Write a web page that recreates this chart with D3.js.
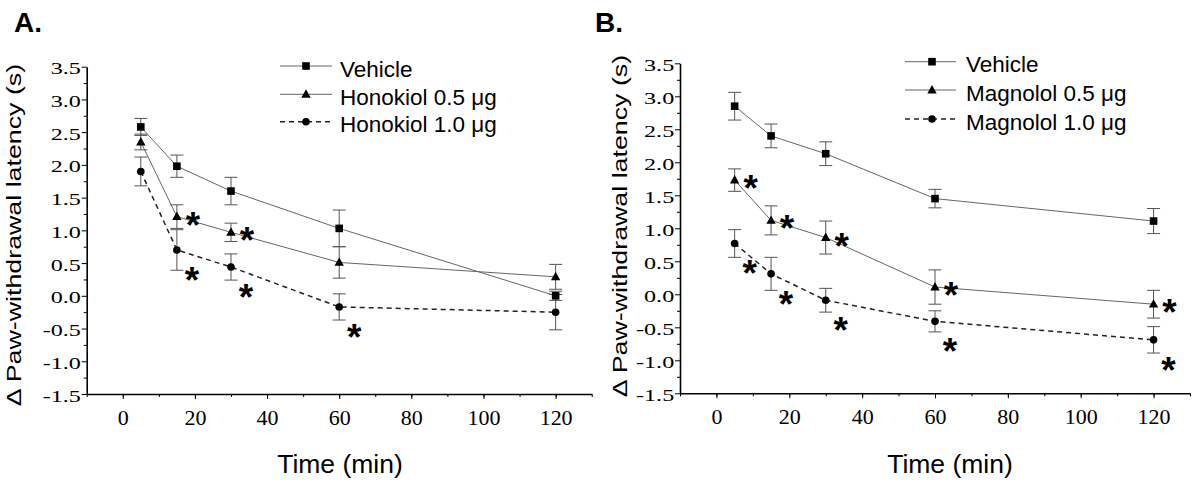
<!DOCTYPE html>
<html>
<head>
<meta charset="utf-8">
<script src="https://cdn.jsdelivr.net/npm/d3@7"></script>
<style>
  html, body { margin: 0; padding: 0; background: #fff; }
  svg { display: block; }
</style>
</head>
<body>
<svg id="chart" width="1200" height="487"></svg>
<script>
// ---------- DATA ----------
const times = [5, 15, 30, 60, 120];
const xTicks = [0, 20, 40, 60, 80, 100, 120];
const xMinorTicks = [-10, 0, 10, 20, 30, 40, 50, 60, 70, 80, 90, 100, 110, 120, 130];
const yTicks = [-1.5, -1.0, -0.5, 0.0, 0.5, 1.0, 1.5, 2.0, 2.5, 3.0, 3.5];
const yTickLabels = ["-1.5", "-1.0", "-0.5", "0.0", "0.5", "1.0", "1.5", "2.0", "2.5", "3.0", "3.5"];
const yMinorTicks = [-1.25, -0.75, -0.25, 0.25, 0.75, 1.25, 1.75, 2.25, 2.75, 3.25];

// Panel A
const namesA = ["Vehicle", "Honokiol 0.5 \u03bcg", "Honokiol 1.0 \u03bcg"];
const vehicleA = [2.58, 1.98, 1.60, 1.03, 0.00];
const vehicleAErr = [0.13, 0.17, 0.21, 0.28, 0.07];
const honokiol05 = [2.35, 1.21, 0.97, 0.51, 0.29];
const honokiol05Err = [0.12, 0.18, 0.14, 0.24, 0.19];
const honokiol10 = [1.90, 0.70, 0.44, -0.17, -0.25];
const honokiol10Err = [0.22, 0.31, 0.20, 0.20, 0.27];
const vehicleASig = [0, 0, 0, 0, 0];
const honokiol05Sig = [0, 1, 1, 0, 0];
const honokiol10Sig = [0, 1, 1, 1, 0];

// Panel B
const namesB = ["Vehicle", "Magnolol 0.5 \u03bcg", "Magnolol 1.0 \u03bcg"];
const vehicleB = [2.85, 2.40, 2.13, 1.45, 1.11];
const vehicleBErr = [0.21, 0.18, 0.18, 0.14, 0.19];
const magnolol05 = [1.73, 1.12, 0.86, 0.11, -0.15];
const magnolol05Err = [0.17, 0.22, 0.25, 0.26, 0.21];
const magnolol10 = [0.77, 0.31, -0.09, -0.41, -0.69];
const magnolol10Err = [0.21, 0.25, 0.18, 0.16, 0.20];
const vehicleBSig = [0, 0, 0, 0, 0];
const magnolol05Sig = [1, 1, 1, 1, 1];
const magnolol10Sig = [1, 1, 1, 1, 1];

const panelLabels = ["A.", "B."];
const xTitle = "Time (min)";
const yTitle = "\u0394 Paw-withdrawal latency (s)";

// ---------- DRAW ----------
const svg = d3.select("#chart");
const serif = "'Liberation Serif', 'Times New Roman', serif";
const sans = "'Liberation Sans', Arial, sans-serif";

const markerTypes = ["square", "triangle", "circle"];
const dashTypes = [null, null, "5,4"];
const lineColors = ["#666", "#666", "#222"];
const lineWidths = [1, 1, 1.5];

const panels = [
  {
    label: panelLabels[0], labelX: 14,
    xRange: [86.7, 591.7], yRange: [394, 66.7],
    yTitleX: 21, yTitleY: 235, xTitleX: 340,
    legend: { x1: 280, x2: 332, mx: 306, tx: 340, rows: [66, 94.3, 121.7] },
    names: namesA,
    series: [
      { v: vehicleA, e: vehicleAErr, s: vehicleASig },
      { v: honokiol05, e: honokiol05Err, s: honokiol05Sig },
      { v: honokiol10, e: honokiol10Err, s: honokiol10Sig }
    ]
  },
  {
    label: panelLabels[1], labelX: 595,
    xRange: [680, 1190], yRange: [393.3, 63.3],
    yTitleX: 627, yTitleY: 226, xTitleX: 950,
    legend: { x1: 905, x2: 956, mx: 932, tx: 966, rows: [61.7, 90, 119] },
    names: namesB,
    series: [
      { v: vehicleB, e: vehicleBErr, s: vehicleBSig },
      { v: magnolol05, e: magnolol05Err, s: magnolol05Sig },
      { v: magnolol10, e: magnolol10Err, s: magnolol10Sig }
    ]
  }
];

function drawMarker(g, type, cx, cy) {
  if (type === "square") {
    g.append("rect").attr("x", cx - 3.8).attr("y", cy - 3.8)
      .attr("width", 7.6).attr("height", 7.6).attr("fill", "#000");
  } else if (type === "triangle") {
    g.append("path")
      .attr("d", `M${cx},${cy - 5} L${cx + 4.7},${cy + 3.4} L${cx - 4.7},${cy + 3.4} Z`)
      .attr("fill", "#000");
  } else {
    g.append("circle").attr("cx", cx).attr("cy", cy).attr("r", 3.8).attr("fill", "#000");
  }
}

const starOffsets = [[15, 0], [16, 0], [15, 22]];

panels.forEach(p => {
  const x = d3.scaleLinear().domain([-10, 130]).range(p.xRange);
  const y = d3.scaleLinear().domain([-1.5, 3.5]).range(p.yRange);
  const g = svg.append("g");

  // panel label
  g.append("text").attr("x", p.labelX).attr("y", 32)
    .attr("font-family", sans).attr("font-weight", "bold").attr("font-size", 28)
    .text(p.label);

  // x axis
  const xAxisG = g.append("g").attr("transform", `translate(0,${p.yRange[0]})`);
  xAxisG.call(d3.axisBottom(x).tickValues(xMinorTicks).tickSize(3).tickSizeOuter(0).tickFormat(""));
  const xMajor = g.append("g").attr("transform", `translate(0,${p.yRange[0]})`)
    .call(d3.axisBottom(x).tickValues(xTicks).tickSize(5).tickSizeOuter(0).tickFormat(d3.format("d")));
  xMajor.select(".domain").remove();
  xMajor.selectAll("text").attr("y", 31).attr("dy", 0)
    .attr("font-family", serif).attr("font-size", 20).attr("fill", "#000")
    .attr("transform", "scale(1.1,1)");
  g.selectAll(".domain").attr("stroke-width", 1.6);

  // y axis
  const yAxisG = g.append("g").attr("transform", `translate(${p.xRange[0]},0)`);
  yAxisG.call(d3.axisLeft(y).tickValues(yMinorTicks).tickSize(3).tickSizeOuter(0).tickFormat(""));
  yAxisG.select(".domain").attr("stroke-width", 1.6);
  const yMajor = g.append("g").attr("transform", `translate(${p.xRange[0]},0)`)
    .call(d3.axisLeft(y).tickValues(yTicks).tickSize(5).tickSizeOuter(0)
      .tickFormat((d, i) => yTickLabels[i]));
  yMajor.select(".domain").remove();
  yMajor.selectAll("text").attr("x", -4.2).attr("dy", "0.4em")
    .attr("font-family", serif).attr("font-size", 17.5).attr("fill", "#000")
    .attr("transform", "scale(1.38,1)");

  // titles
  g.append("text").attr("x", p.xTitleX).attr("y", 473)
    .attr("text-anchor", "middle").attr("font-family", sans).attr("font-size", 26.5)
    .text(xTitle);
  g.append("text")
    .attr("transform", `translate(${p.yTitleX},${p.yTitleY}) rotate(-90) scale(1.34,1)`)
    .attr("text-anchor", "middle").attr("font-family", sans).attr("font-size", 20)
    .text(yTitle);

  // series
  p.series.forEach((s, si) => {
    const pts = times.map((t, i) => ({ t, v: s.v[i], e: s.e[i], sig: s.s[i] }));
    const line = d3.line().x(d => x(d.t)).y(d => y(d.v));
    g.append("path").datum(pts).attr("d", line)
      .attr("fill", "none").attr("stroke", lineColors[si]).attr("stroke-width", lineWidths[si])
      .attr("stroke-dasharray", dashTypes[si]);
    const eg = g.append("g").attr("stroke", "#555").attr("stroke-width", 1);
    pts.forEach(d => {
      const cx = x(d.t);
      eg.append("line").attr("x1", cx).attr("x2", cx).attr("y1", y(d.v - d.e)).attr("y2", y(d.v + d.e));
      eg.append("line").attr("x1", cx - 6.5).attr("x2", cx + 6.5).attr("y1", y(d.v - d.e)).attr("y2", y(d.v - d.e));
      eg.append("line").attr("x1", cx - 6.5).attr("x2", cx + 6.5).attr("y1", y(d.v + d.e)).attr("y2", y(d.v + d.e));
    });
  });
  p.series.forEach((s, si) => {
    times.forEach((t, i) => {
      drawMarker(g, markerTypes[si], x(t), y(s.v[i]));
      if (s.s[i]) {
        g.append("text")
          .attr("x", x(t) + starOffsets[si][0])
          .attr("y", y(s.v[i]) + starOffsets[si][1] + 21)
          .attr("text-anchor", "middle")
          .attr("font-family", sans).attr("font-weight", "bold").attr("font-size", 37)
          .text("*");
      }
    });
  });

  // legend
  const L = p.legend;
  p.names.forEach((name, si) => {
    const ry = L.rows[si];
    g.append("line").attr("x1", L.x1).attr("x2", L.x2).attr("y1", ry).attr("y2", ry)
      .attr("stroke", lineColors[si]).attr("stroke-width", lineWidths[si])
      .attr("stroke-dasharray", dashTypes[si]);
    drawMarker(g, markerTypes[si], L.mx, ry);
    g.append("text").attr("x", L.tx).attr("y", ry + 10.7)
      .attr("font-family", sans).attr("font-size", 22.5).text(name);
  });
});
</script>
</body>
</html>
